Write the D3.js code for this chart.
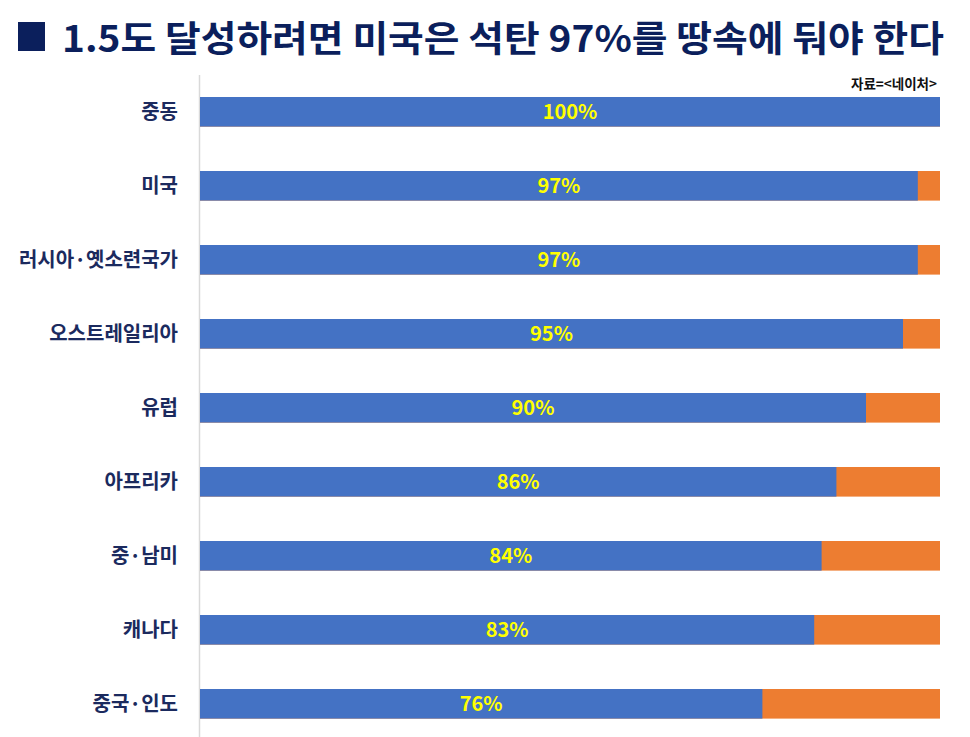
<!DOCTYPE html>
<html>
<head>
<meta charset="utf-8">
<script src="https://cdn.jsdelivr.net/npm/d3@7"></script>
<style>
  body { margin: 0; background: #fff; }
  svg { display: block; font-family: "Noto Sans CJK KR", "Noto Sans", sans-serif; }
</style>
</head>
<body>
<div id="chart"></div>
<script>
// chart data
var regions = ['중동', '미국', '러시아·옛소련국가', '오스트레일리아', '유럽', '아프리카', '중·남미', '캐나다', '중국·인도'];
var unburnable = [100, 97, 97, 95, 90, 86, 84, 83, 76];
var title = '1.5도 달성하려면 미국은 석탄 97%를 땅속에 둬야 한다';
var source = '자료=<네이처>';

var width = 970, height = 737;

var svg = d3.select('#chart').append('svg')
  .attr('width', width)
  .attr('height', height);

// Title with square marker
svg.append('rect')
  .attr('x', 18).attr('y', 22)
  .attr('width', 27).attr('height', 29)
  .attr('fill', '#0b1f5c');
svg.append('text')
  .attr('x', 62).attr('y', 52)
  .attr('font-size', 36)
  .attr('font-weight', 'bold')
  .attr('fill', '#0b1f5c')
  .attr('textLength', 882)
  .attr('lengthAdjust', 'spacingAndGlyphs')
  .text(title);

// scales
var x = d3.scaleLinear().domain([0, 100]).range([200, 940]);
var y = d3.scaleBand().domain(regions)
  .range([74.8, 740.8])
  .paddingInner(0.6)
  .paddingOuter(0.3);

// vertical axis line
svg.append('line')
  .attr('x1', 199.5).attr('x2', 199.5)
  .attr('y1', 75).attr('y2', height)
  .attr('stroke', '#d9d9d9')
  .attr('stroke-width', 1.5);

// source
svg.append('text')
  .attr('x', 937).attr('y', 89)
  .attr('text-anchor', 'end')
  .attr('font-size', 13.5)
  .attr('font-weight', 'bold')
  .attr('fill', '#111')
  .text(source);

var rows = svg.selectAll('g.row')
  .data(regions)
  .join('g')
    .attr('class', 'row');

// remainder (orange) then share (blue)
rows.append('rect')
  .attr('x', x(0))
  .attr('y', d => y(d))
  .attr('width', x(100) - x(0))
  .attr('height', y.bandwidth())
  .attr('fill', '#ed7d31');

rows.append('rect')
  .attr('x', x(0))
  .attr('y', d => y(d))
  .attr('width', (d, i) => x(unburnable[i]) - x(0))
  .attr('height', y.bandwidth())
  .attr('fill', '#4472c4');

// category labels
rows.append('text')
  .attr('x', 178)
  .attr('y', d => y(d) + y.bandwidth() / 2)
  .attr('dy', '0.35em')
  .attr('text-anchor', 'end')
  .attr('font-size', 20)
  .attr('font-weight', 'bold')
  .attr('fill', '#1b2a5e')
  .text(d => d);

// value labels
rows.append('text')
  .attr('x', (d, i) => (x(0) + x(unburnable[i])) / 2)
  .attr('y', d => y(d) + y.bandwidth() / 2)
  .attr('dy', '0.36em')
  .attr('text-anchor', 'middle')
  .attr('font-size', 20)
  .attr('font-weight', 'bold')
  .attr('fill', '#ffff00')
  .text((d, i) => unburnable[i] + '%');
</script>
</body>
</html>
